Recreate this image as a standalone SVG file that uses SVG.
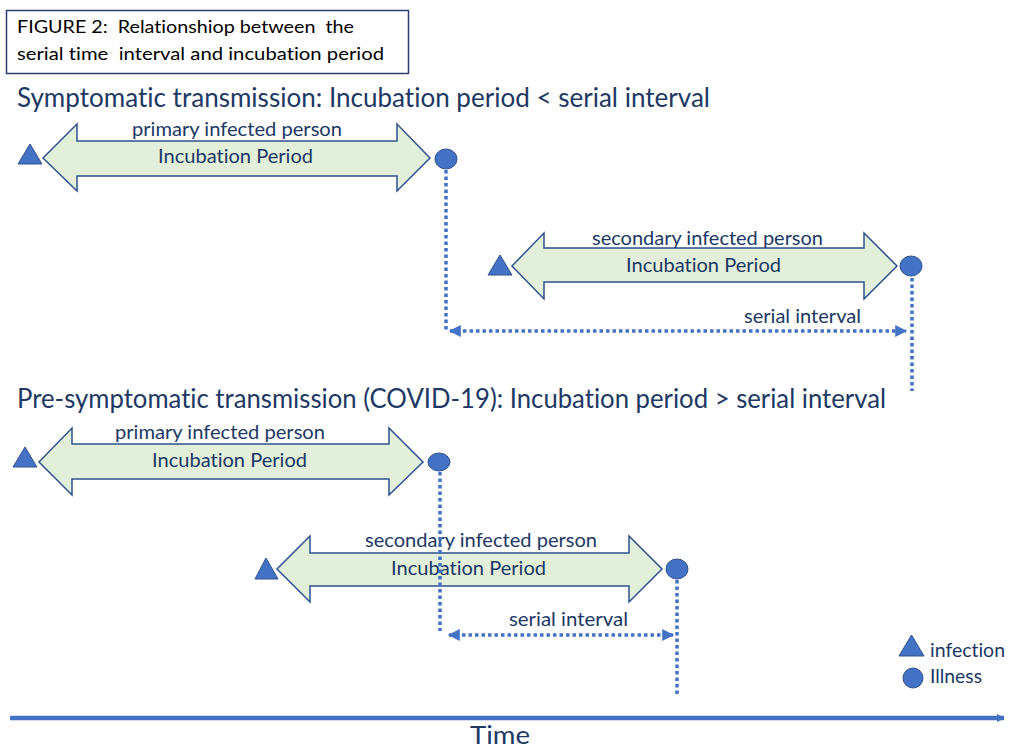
<svg xmlns="http://www.w3.org/2000/svg" width="1012" height="749" viewBox="0 0 1012 749">
<style>
text{font-family:Lato,"Open Sans","Liberation Sans",sans-serif;fill:#203864;font-variant-ligatures:none}
.blk{fill:#000;font-size:17.5px;white-space:pre}
.hd{font-size:26px}
.lb{font-size:19px}
.lg{font-size:19px}
.dbl{fill:#e2efda;stroke:#2f528f;stroke-width:1.5}
.mk{fill:#4472c4;stroke:#2f528f;stroke-width:1}
.dot{fill:none;stroke:#4472c4;stroke-width:3.5;stroke-dasharray:3.5 3}
</style>
<defs>
<marker id="ah" viewBox="0 0 10 10" refX="9" refY="5" markerWidth="13" markerHeight="12" orient="auto-start-reverse" markerUnits="userSpaceOnUse">
<path d="M0,0 L10,5 L0,10 z" fill="#4472c4"/>
</marker>
<marker id="ta" viewBox="0 0 10 10" refX="9" refY="5" markerWidth="8" markerHeight="10" orient="auto" markerUnits="userSpaceOnUse">
<path d="M0,0 L10,5 L0,10 z" fill="#4472c4"/>
</marker>
</defs>
<rect width="1012" height="749" fill="#fff"/>
<g id="title">
<rect x="6.5" y="10.5" width="402" height="63" fill="#fff" stroke="#2f3f6f" stroke-width="1.5"/>
<text class="blk" x="17" y="33" textLength="337" lengthAdjust="spacingAndGlyphs">FIGURE 2:  Relationshiop between  the</text>
<text class="blk" x="17" y="60" textLength="367" lengthAdjust="spacingAndGlyphs">serial time  interval and incubation period</text>
</g>
<g id="heading1"><text class="hd" x="17" y="107" textLength="693" lengthAdjust="spacingAndGlyphs">Symptomatic transmission: Incubation period &lt; serial interval</text></g>
<g id="heading2"><text class="hd" x="17" y="408" textLength="869" lengthAdjust="spacingAndGlyphs">Pre-symptomatic transmission (COVID-19): Incubation period &gt; serial interval</text></g>
<g id="primary1">
<path class="dbl" d="M43,158 L77,124 L77,141 L397,141 L397,124 L430,158 L397,191 L397,176 L77,176 L77,191 z"/>
<text class="lb" x="132" y="136" textLength="210" lengthAdjust="spacingAndGlyphs">primary infected person</text>
<text class="lb" x="158" y="163" textLength="155" lengthAdjust="spacingAndGlyphs">Incubation Period</text>
</g>
<g id="infection1"><path class="mk" d="M18,164 L42,164 L30,144 z"/></g>
<g id="illness1"><ellipse class="mk" cx="446" cy="159" rx="11" ry="10"/></g>
<g id="secondary1">
<path class="dbl" d="M512,266 L544,233 L544,248 L864,248 L864,233 L897,266 L864,299 L864,282 L544,282 L544,299 z"/>
<text class="lb" x="592" y="245" textLength="231" lengthAdjust="spacingAndGlyphs">secondary infected person</text>
<text class="lb" x="626" y="272" textLength="155" lengthAdjust="spacingAndGlyphs">Incubation Period</text>
</g>
<g id="infection2"><path class="mk" d="M488,275 L512,275 L500,255 z"/></g>
<g id="illness2"><ellipse class="mk" cx="911" cy="266" rx="11" ry="10"/></g>
<g id="serial1"><text class="lb" x="744" y="323" textLength="117" lengthAdjust="spacingAndGlyphs">serial interval</text></g>
<g id="primary2">
<path class="dbl" d="M39,462 L72,428 L72,444 L389,444 L389,428 L423,462 L389,495 L389,479 L72,479 L72,495 z"/>
<text class="lb" x="115" y="439" textLength="210" lengthAdjust="spacingAndGlyphs">primary infected person</text>
<text class="lb" x="152" y="467" textLength="155" lengthAdjust="spacingAndGlyphs">Incubation Period</text>
</g>
<g id="infection3"><path class="mk" d="M13,467 L37,467 L25,447 z"/></g>
<g id="illness3"><ellipse class="mk" cx="439" cy="462" rx="11" ry="9"/></g>
<g id="secondary2">
<path class="dbl" d="M277,569 L310,536 L310,553 L629,553 L629,536 L662,569 L629,602 L629,586 L310,586 L310,602 z"/>
<text class="lb" x="365" y="547" textLength="232" lengthAdjust="spacingAndGlyphs">secondary infected person</text>
<text class="lb" x="391" y="575" textLength="155" lengthAdjust="spacingAndGlyphs">Incubation Period</text>
</g>
<g id="infection4"><path class="mk" d="M255,579 L278,579 L266,558 z"/></g>
<g id="illness4"><ellipse class="mk" cx="677" cy="569" rx="11" ry="10"/></g>
<g id="serial2"><text class="lb" x="509" y="626" textLength="119" lengthAdjust="spacingAndGlyphs">serial interval</text></g>
<g id="legend">
<path class="mk" d="M899,656 L924,656 L911.5,635 z"/>
<text class="lg" x="930" y="657" textLength="75" lengthAdjust="spacingAndGlyphs">infection</text>
<ellipse class="mk" cx="913" cy="678" rx="10" ry="10"/>
<text class="lg" x="930" y="683" textLength="52" lengthAdjust="spacingAndGlyphs">Illness</text>
</g>
<g id="time">
<line x1="10" y1="718" x2="1004" y2="718" stroke="#4472c4" stroke-width="4.5" marker-end="url(#ta)"/>
<text x="500" y="744" text-anchor="middle" font-size="25" textLength="60" lengthAdjust="spacingAndGlyphs">Time</text>
</g>
<g id="connectors">
<path class="dot" d="M446,170 L446,331"/>
<line class="dot" x1="450" y1="331" x2="906" y2="331" marker-start="url(#ah)" marker-end="url(#ah)"/>
<path class="dot" d="M912,278 L912,391"/>
<path class="dot" d="M440,472 L440,631"/>
<line class="dot" x1="449" y1="635" x2="673" y2="635" marker-start="url(#ah)" marker-end="url(#ah)"/>
<path class="dot" d="M677,580 L677,694"/>
</g>
</svg>
